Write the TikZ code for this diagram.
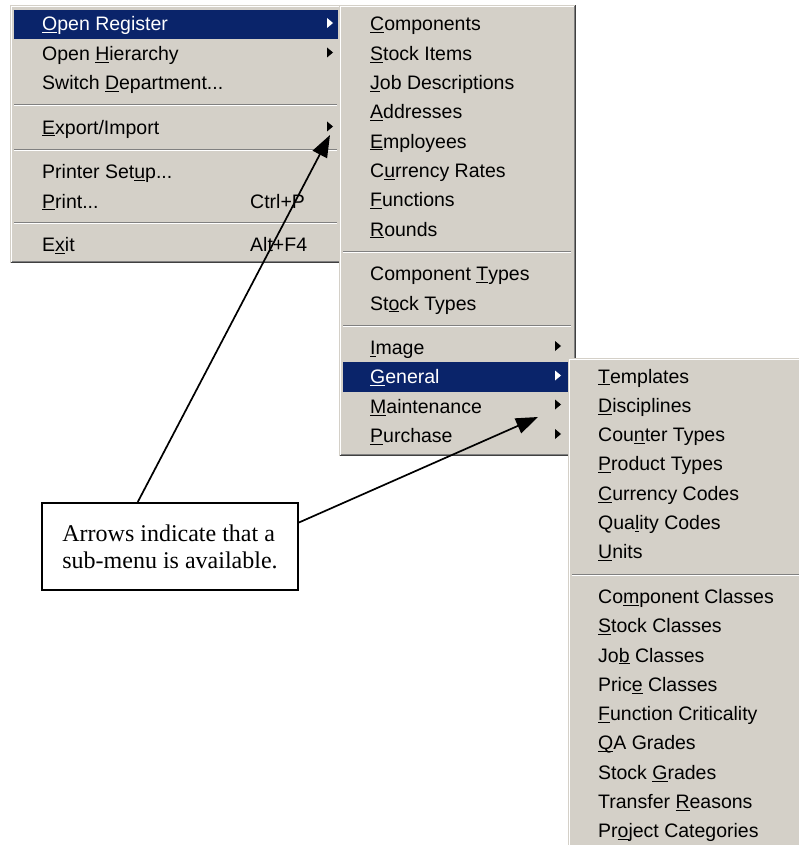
\documentclass[tikz,border=0pt]{standalone}
\usepackage{fontspec}
\setmainfont{Liberation Sans}
\newfontfamily\serifface{Liberation Serif}
\usetikzlibrary{arrows.meta, calc}

\definecolor{menugray}{HTML}{D4D0C8}
\definecolor{selblue}{HTML}{0A246A}
\definecolor{shadegray}{HTML}{808080}
\definecolor{darkedge}{HTML}{404040}

\newsavebox{\akbox}
\newcommand{\ak}[1]{\sbox{\akbox}{#1}\rlap{\rule[-2.2pt]{\wd\akbox}{0.9pt}}\usebox{\akbox}}
\newcommand{\menufont}{\fontsize{19.5}{23}\selectfont}
\newcommand{\notefont}{\serifface\fontsize{24}{27}\selectfont}

\tikzset{
  item/.style={anchor=base west, inner sep=0pt, font=\menufont},
  selitem/.style={item, text=white},
  callout/.style={draw, line width=2pt, fill=white, minimum width=256pt,
    minimum height=87pt, align=left, inner xsep=0pt, font=\notefont},
  pointer/.style={line width=1.7pt, -{Triangle[length=22pt,width=16pt]}},
  raised/.style={line width=1pt},
}

\begin{document}
\begin{tikzpicture}[x=1pt, y=-1pt]
    \fill[white] (0,0) rectangle (799,845);
    \useasboundingbox (0,0) rectangle (799,845);

    % first menu
    \fill[menugray] (10,5) rectangle (341,263);
    \draw[raised, white] (11.5,261.5) -- (11.5,6.5) -- (339.5,6.5);
    \draw[raised, darkedge] (10.5,262.5) -- (340.5,262.5) -- (340.5,5.5);
    \draw[raised, shadegray] (11.5,261.5) -- (339.5,261.5) -- (339.5,6.5);
    \fill[selblue] (14,10) rectangle (338,39);
    \foreach \y in {104,149,222} {
        \draw[shadegray] (14,\y) -- (337,\y);
        \draw[white] (14,\y+1) -- (337,\y+1);
    }
    \node[selitem] (OpReg) at (42,31) {\ak{O}pen Register};
    \node[item] (OpHier) at (42,60.3) {Open \ak{H}ierarchy};
    \node[item] (SwDep) at (42,89.6) {Switch \ak{D}epartment...};
    \node[item] (ExIm) at (42,134.2) {\ak{E}xport/Import};
    \node[item] (PrSet) at (42,178.8) {Printer Set\ak{u}p...};
    \node[item] (Prnt) at (42,208.1) {\ak{P}rint...};
    \node[item] (CtrlP) at (250,208.1) {Ctrl+P};
    \node[item] (Exit) at (42,251.2) {E\ak{x}it};
    \node[item] (AltF) at (250,251.2) {Alt+F4};
    \fill[white] (327,18) -- (333,23) -- (327,28) -- cycle;
    \fill[black] (327,47.5) -- (333,52.5) -- (327,57.5) -- cycle;
    \fill[black] (327,121.5) -- (333,126.5) -- (327,131.5) -- cycle;

    % second menu
    \fill[menugray] (339,5) rectangle (576,456);
    \draw[raised, white] (340.5,454.5) -- (340.5,6.5) -- (574.5,6.5);
    \draw[raised, darkedge] (339.5,455.5) -- (575.5,455.5) -- (575.5,5.5);
    \draw[raised, shadegray] (340.5,454.5) -- (574.5,454.5) -- (574.5,6.5);
    \fill[selblue] (343,362) rectangle (572,392);
    \foreach \y in {251,325} {
        \draw[shadegray] (343,\y) -- (571,\y);
        \draw[white] (343,\y+1) -- (571,\y+1);
    }
    \node[item] (Comp) at (370,31) {\ak{C}omponents};
    \node[item] (StIt) at (370,60.3) {\ak{S}tock Items};
    \node[item] (JobD) at (370,89.6) {\ak{J}ob Descriptions};
    \node[item] (Addr) at (370,118.9) {\ak{A}ddresses};
    \node[item] (Empl) at (370,148.2) {\ak{E}mployees};
    \node[item] (CurR) at (370,177.5) {C\ak{u}rrency Rates};
    \node[item] (Func) at (370,206.8) {\ak{F}unctions};
    \node[item] (Rnds) at (370,236.1) {\ak{R}ounds};
    \node[item] (CompT) at (370,280.7) {Component \ak{T}ypes};
    \node[item] (StT) at (370,310) {St\ak{o}ck Types};
    \node[item] (Img) at (370,354.6) {\ak{I}mage};
    \node[selitem] (Gen) at (370,383.9) {\ak{G}eneral};
    \node[item] (Maint) at (370,413.2) {\ak{M}aintenance};
    \node[item] (Purch) at (370,442.5) {\ak{P}urchase};
    \fill[black] (555,341) -- (561,346) -- (555,351) -- cycle;
    \fill[white] (555,370.5) -- (561,375.5) -- (555,380.5) -- cycle;
    \fill[black] (555,399.5) -- (561,404.5) -- (555,409.5) -- cycle;
    \fill[black] (555,429) -- (561,434) -- (555,439) -- cycle;

    % third menu
    \fill[menugray] (568,358) rectangle (799,845);
    \draw[raised, white] (569.5,845) -- (569.5,359.5) -- (799,359.5);
    \draw[shadegray] (572,574) -- (799,574);
    \draw[white] (572,575) -- (799,575);
    \node[item] (Tmpl) at (598,383) {\ak{T}emplates};
    \node[item] (Disc) at (598,412.3) {\ak{D}isciplines};
    \node[item] (CntT) at (598,441.6) {Cou\ak{n}ter Types};
    \node[item] (ProdT) at (598,470.9) {\ak{P}roduct Types};
    \node[item] (CurC) at (598,500.2) {\ak{C}urrency Codes};
    \node[item] (QualC) at (598,529.5) {Qua\ak{l}ity Codes};
    \node[item] (Unit) at (598,558.8) {\ak{U}nits};
    \node[item] (CompC) at (598,603.4) {Co\ak{m}ponent Classes};
    \node[item] (StC) at (598,632.7) {\ak{S}tock Classes};
    \node[item] (JobC) at (598,662) {Jo\ak{b} Classes};
    \node[item] (PrcC) at (598,691.3) {Pric\ak{e} Classes};
    \node[item] (FuncC) at (598,720.6) {\ak{F}unction Criticality};
    \node[item] (QAG) at (598,749.9) {\ak{Q}A Grades};
    \node[item] (StG) at (598,779.2) {Stock \ak{G}rades};
    \node[item] (TrR) at (598,808.5) {Transfer \ak{R}easons};
    \node[item] (PrjC) at (598,837.8) {Pr\ak{o}ject Categories};

    % note with pointers
    \node[callout] (hint) at (170,546.5) {Arrows indicate that a\\sub-menu is available.};
    \coordinate (tipA) at (330,135);
    \coordinate (tipB) at (538,417);
    \draw[pointer] ($(hint.north west)!0.375!(hint.north east)$) -- (tipA);
    \draw[pointer] ($(hint.north east)!0.23!(hint.south east)$) -- (tipB);
\end{tikzpicture}
\end{document}
